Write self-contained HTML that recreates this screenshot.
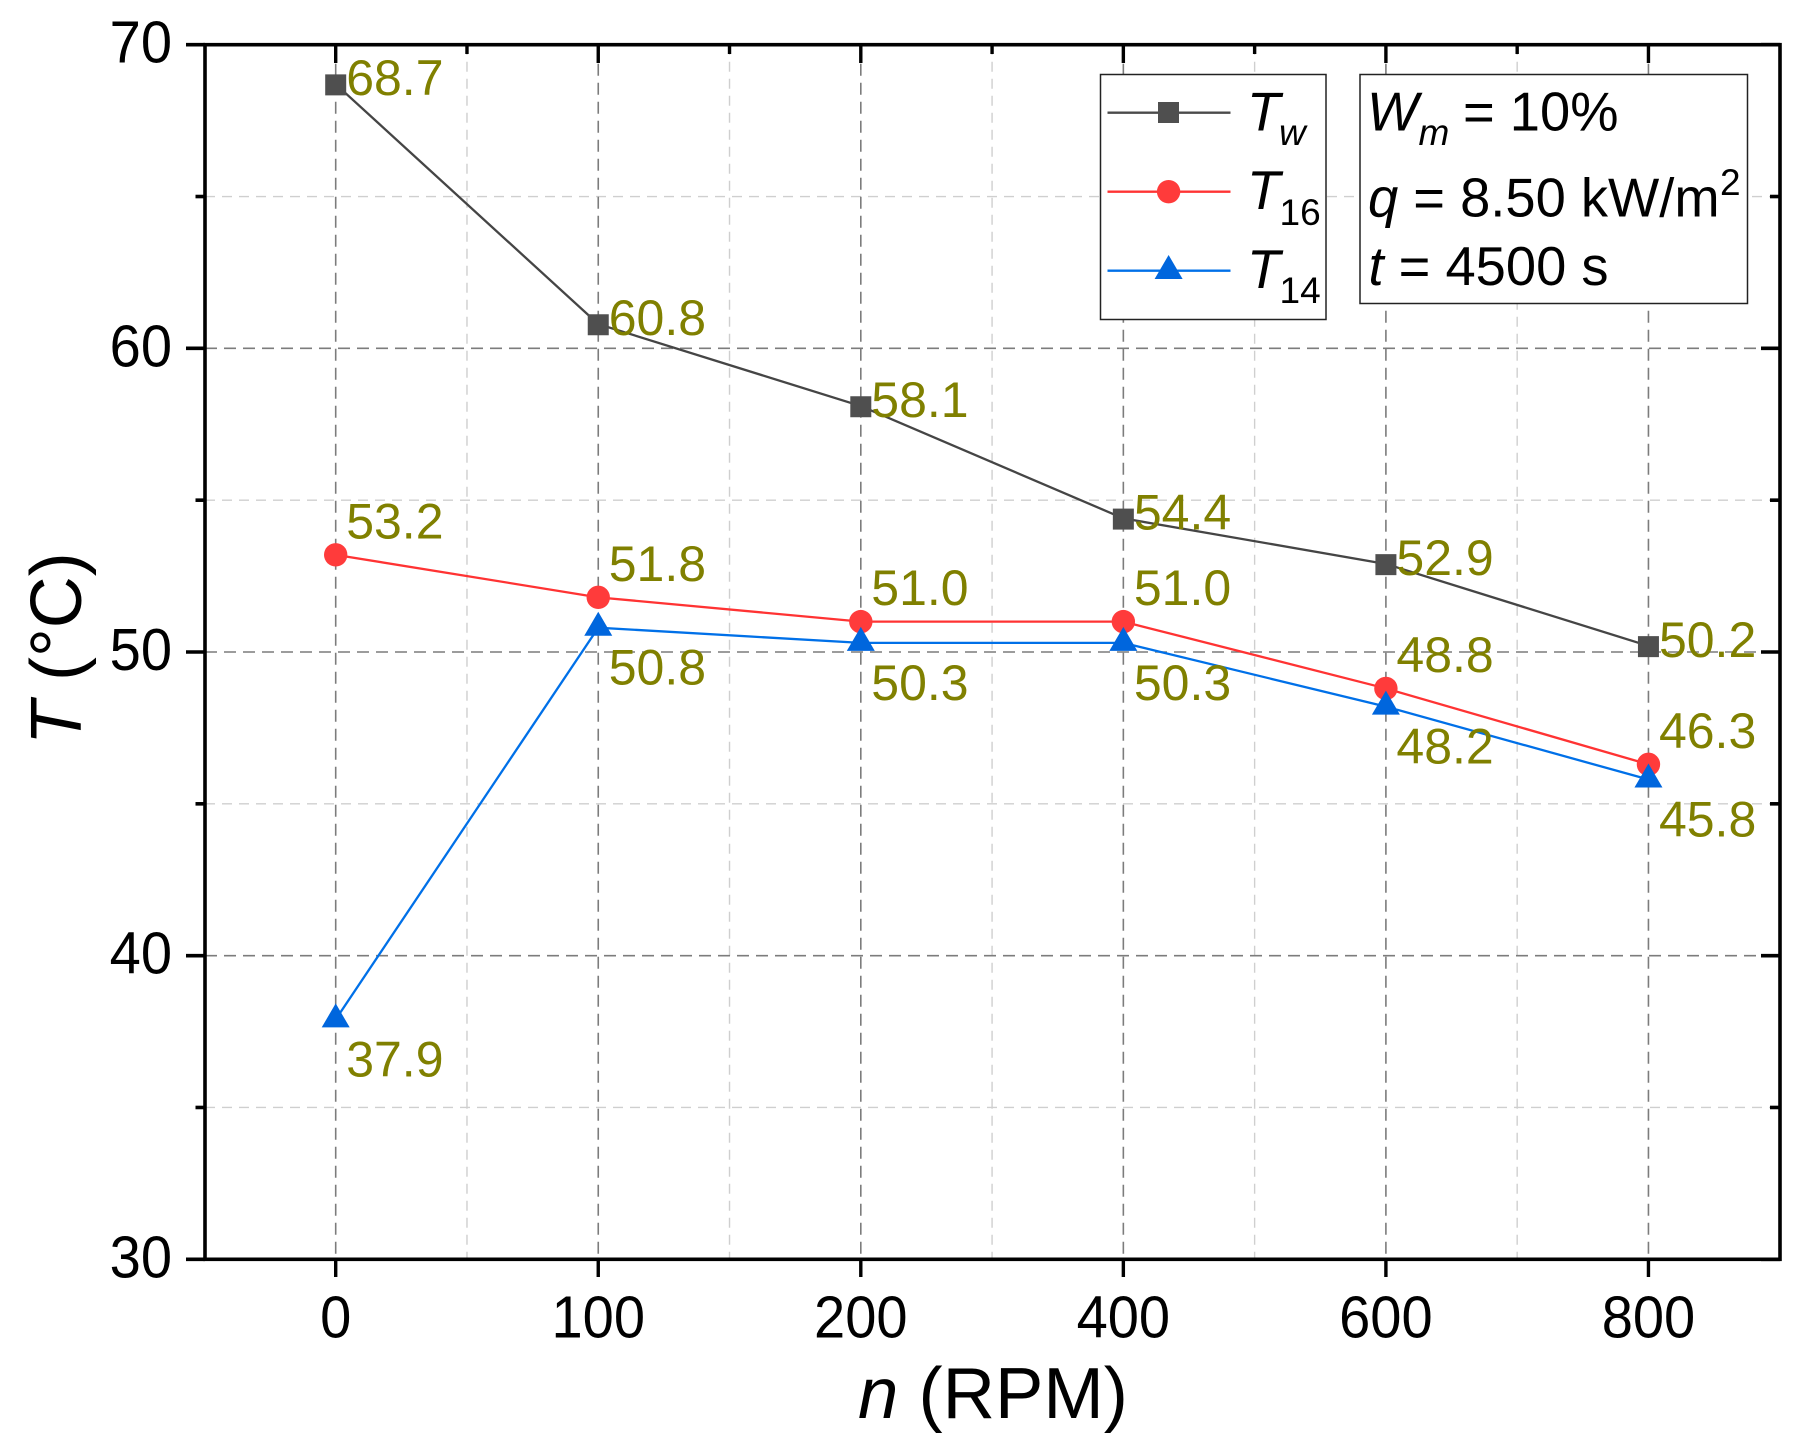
<!DOCTYPE html>
<html lang="en">
<head>
<meta charset="utf-8">
<title>Temperature vs rotation speed</title>
<style>
html,body{margin:0;padding:0;background:#fff;}
body{width:1807px;height:1453px;overflow:hidden;}
svg{display:block;}
text{font-family:"Liberation Sans",Arial,sans-serif;}
.tick{font-size:59px;fill:#000;}
.lab{font-size:50px;fill:#808000;}
.big{font-size:54.3px;fill:#000;}
.sub{font-size:37px;fill:#000;}
.it{font-style:italic;}
</style>
</head>
<body>
<svg id="chart" xmlns="http://www.w3.org/2000/svg" width="1807" height="1453" viewBox="0 0 1807 1453">
  <rect x="0" y="0" width="1807" height="1453" fill="#ffffff"/>
  <g id="grid"></g>
  <g id="ticks"></g>
  <g id="series"></g>
  <g id="labels"></g>

  <text x="858" y="1418" font-size="72.5" fill="#000"><tspan class="it">n</tspan> (RPM)</text>
  <text transform="translate(81,745) rotate(-90)" font-size="72" fill="#000"><tspan class="it">T</tspan> (°C)</text>

  <g>
    <rect x="1100.5" y="74.5" width="225.5" height="245" fill="#fff" stroke="#222" stroke-width="1.5"/>
    <g>
      <line x1="1107.5" x2="1230.5" y1="112.7" y2="112.7" stroke="#4a4a4a" stroke-width="2.3"/>
      <rect x="1158" y="102" width="21" height="21" fill="#4f4f4f"/>
      <text class="big it" x="1247" y="130.7">T</text>
      <text class="sub it" x="1279" y="145">w</text>
    </g>
    <g>
      <line x1="1107.5" x2="1230.5" y1="191.7" y2="191.7" stroke="#ff3333" stroke-width="2.3"/>
      <circle cx="1168.6" cy="191.7" r="11.7" fill="#ff3b3b"/>
      <text class="big it" x="1247" y="209">T</text>
      <text class="sub" x="1279.5" y="225">16</text>
    </g>
    <g>
      <line x1="1107.5" x2="1230.5" y1="270.7" y2="270.7" stroke="#0070e8" stroke-width="2.3"/>
      <polygon points="1168.6,255 1182.6,279 1154.6,279" fill="#0066dd"/>
      <text class="big it" x="1247" y="288">T</text>
      <text class="sub" x="1279.5" y="303">14</text>
    </g>
  </g>

  <g>
    <rect x="1360" y="74.5" width="387.5" height="229" fill="#fff" stroke="#222" stroke-width="1.5"/>
    <text class="big it" x="1367" y="130.7">W</text>
    <text class="sub it" x="1418.5" y="145">m</text>
    <text class="big" x="1463" y="130.7">= 10%</text>
    <text class="big" x="1368" y="216.7"><tspan class="it">q</tspan> = 8.50 kW/m</text>
    <text class="sub" x="1720" y="195">2</text>
    <text class="big" x="1368.5" y="285"><tspan class="it">t</tspan> = 4500 s</text>
  </g>
</svg>

<script>
// Chart data
const categories = ['0', '100', '200', '400', '600', '800'];
const twValues = [68.7, 60.8, 58.1, 54.4, 52.9, 50.2];
const t16Values = [53.2, 51.8, 51.0, 51.0, 48.8, 46.3];
const t14Values = [37.9, 50.8, 50.3, 50.3, 48.2, 45.8];
const yMajorTicks = [30, 40, 50, 60, 70];
const yMinorTicks = [35, 45, 55, 65];

// Axis functions
const NS = 'http://www.w3.org/2000/svg';
const X0 = 335.7, XSTEP = 262.55, Y70 = 44.7, YUNIT = 30.365;
const LEFT = 205, RIGHT = 1780, TOP = 44.7, BOTTOM = 1259.3;
function xPos(i) { return X0 + XSTEP * i; }
function yPos(v) { return Y70 + (70 - v) * YUNIT; }
function make(tag, attrs, parent) {
  const n = document.createElementNS(NS, tag);
  for (const k in attrs) n.setAttribute(k, attrs[k]);
  parent.appendChild(n);
  return n;
}
const grid = document.getElementById('grid');
const ticks = document.getElementById('ticks');
const seriesG = document.getElementById('series');
const labelsG = document.getElementById('labels');
let el;

// Grid lines
yMinorTicks.forEach(function (v) {
  el = make('line', {x1: LEFT, x2: RIGHT, y1: yPos(v), y2: yPos(v), stroke: '#cfcfcf', 'stroke-width': 1.4, 'stroke-dasharray': '10 7'}, grid);
  
  
});
categories.slice(0, -1).forEach(function (c, i) {
  el = make('line', {x1: xPos(i + 0.5), x2: xPos(i + 0.5), y1: TOP, y2: BOTTOM, stroke: '#cfcfcf', 'stroke-width': 1.4, 'stroke-dasharray': '10 7'}, grid);
  
  
});
yMajorTicks.forEach(function (v) {
  if (v === 30 || v === 70) return;
  el = make('line', {x1: LEFT, x2: RIGHT, y1: yPos(v), y2: yPos(v), stroke: '#7c7c7c', 'stroke-width': 1.6, 'stroke-dasharray': '12 7'}, grid);
  
  
});
categories.forEach(function (c, i) {
  el = make('line', {x1: xPos(i), x2: xPos(i), y1: TOP, y2: BOTTOM, stroke: '#7c7c7c', 'stroke-width': 1.6, 'stroke-dasharray': '12 7'}, grid);
  
  
});

// Axis frame and ticks
function tickLine(x1, y1, x2, y2, w) {
  return make('line', {x1: x1, y1: y1, x2: x2, y2: y2, stroke: '#000', 'stroke-width': w}, ticks);
}
el = make('rect', {x: LEFT, y: TOP, width: RIGHT - LEFT, height: BOTTOM - TOP, fill: 'none', stroke: '#000', 'stroke-width': 3.6}, ticks);


yMajorTicks.forEach(function (v) {
  el = tickLine(186, yPos(v), LEFT, yPos(v), 3.6);
  
  
  el = tickLine(RIGHT - 19, yPos(v), RIGHT, yPos(v), 3.6);
  
  
});
yMinorTicks.forEach(function (v) {
  el = tickLine(195.5, yPos(v), LEFT, yPos(v), 3.6);
  
  
  el = tickLine(RIGHT - 10, yPos(v), RIGHT, yPos(v), 3.6);
  
  
});
categories.forEach(function (c, i) {
  el = tickLine(xPos(i), BOTTOM, xPos(i), 1277, 3.4);
  
  
  el = tickLine(xPos(i), TOP, xPos(i), 63, 3.4);
  
  
  if (i < categories.length - 1) {
    el = tickLine(xPos(i + 0.5), TOP, xPos(i + 0.5), 54, 3.4);
    
    
  }
});

// Tick labels
yMajorTicks.forEach(function (v) {
  el = make('text', {transform: 'translate(172,' + (yPos(v) + 18) + ') scale(0.95,1)', 'text-anchor': 'end', 'class': 'tick'}, labelsG);
  el.textContent = String(v);
  
  
});
categories.forEach(function (c, i) {
  el = make('text', {transform: 'translate(' + xPos(i) + ',1337.5) scale(0.95,1)', 'text-anchor': 'middle', 'class': 'tick'}, labelsG);
  el.textContent = c;
  
  
});

// Series lines
function linePoints(values) {
  return values.map(function (v, i) { return xPos(i) + ',' + yPos(v); }).join(' ');
}
el = make('polyline', {points: linePoints(twValues), fill: 'none', stroke: '#454545', 'stroke-width': 2.3}, seriesG);


el = make('polyline', {points: linePoints(t16Values), fill: 'none', stroke: '#ff3333', 'stroke-width': 2.3}, seriesG);


el = make('polyline', {points: linePoints(t14Values), fill: 'none', stroke: '#0070e8', 'stroke-width': 2.3}, seriesG);



// Markers
twValues.forEach(function (v, i) {
  el = make('rect', {x: xPos(i) - 10.5, y: yPos(v) - 9.8, width: 21, height: 21, fill: '#4f4f4f'}, seriesG);
  
  
});
t16Values.forEach(function (v, i) {
  el = make('circle', {cx: xPos(i), cy: yPos(v), r: 11.7, fill: '#ff3b3b'}, seriesG);
  
  
});
t14Values.forEach(function (v, i) {
  const x = xPos(i), y = yPos(v);
  el = make('polygon', {points: x + ',' + (y - 16) + ' ' + (x + 14) + ',' + (y + 8) + ' ' + (x - 14) + ',' + (y + 8), fill: '#0066dd'}, seriesG);
  
  
});

// Value labels
twValues.forEach(function (v, i) {
  el = make('text', {x: xPos(i) + 10.5, y: yPos(v) + 11, 'class': 'lab'}, seriesG);
  el.textContent = v.toFixed(1);
  
  
});
t16Values.forEach(function (v, i) {
  el = make('text', {x: xPos(i) + 10.5, y: yPos(v) - 16.5, 'class': 'lab'}, seriesG);
  el.textContent = v.toFixed(1);
  
  
});
t14Values.forEach(function (v, i) {
  el = make('text', {x: xPos(i) + 10.5, y: yPos(v) + 57, 'class': 'lab'}, seriesG);
  el.textContent = v.toFixed(1);
  
  
});
</script>
</body>
</html>
